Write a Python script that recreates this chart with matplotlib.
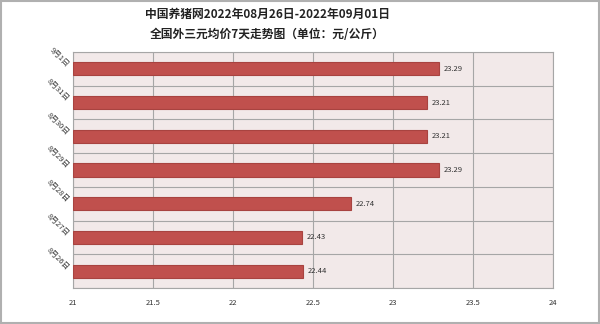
import matplotlib.pyplot as plt
from matplotlib.patches import Rectangle

plt.rcParams['font.family'] = ['Noto Sans CJK SC', 'DejaVu Sans']

# dates from bottom to top, as drawn
dates = ['8月26日', '8月27日', '8月28日', '8月29日', '8月30日', '8月31日', '9月1日']
prices = [22.44, 22.43, 22.74, 23.29, 23.21, 23.21, 23.29]
xticks = [21, 21.5, 22, 22.5, 23, 23.5, 24]
xtick_labels = ['21', '21.5', '22', '22.5', '23', '23.5', '24']

fig = plt.figure(figsize=(6, 3.24), dpi=100)
ax = fig.add_axes([73 / 600, 1 - 288 / 324, 480 / 600, 236 / 324])
ax.set_facecolor('#F2E9E9')

pos = list(range(len(dates)))
ax.barh(pos, [p - 21 for p in prices], left=21, height=0.39,
        color='#C0504D', edgecolor='#A84340', linewidth=0.8, zorder=3)

for y, p in zip(pos, prices):
    ax.text(p + 0.03, y, f'{p:.2f}', va='center', ha='left', fontsize=5.5,
            color='#333333', zorder=4)

ax.set_xlim(21, 24)
ax.set_ylim(-0.5, len(dates) - 0.5)
ax.set_xticks(xticks)
ax.set_xticklabels(xtick_labels, fontsize=5.5, color='#333333')
ax.set_yticks(pos)
ax.set_yticklabels(dates, fontsize=5.5, rotation=-45, ha='right', va='bottom',
                   rotation_mode='anchor', color='#333333')
ax.set_yticks([i - 0.5 for i in range(len(dates) + 1)], minor=True)
ax.tick_params(axis='both', which='both', length=0)
ax.tick_params(axis='x', pad=8)
ax.tick_params(axis='y', pad=6)

ax.grid(axis='x', which='major', color='#A6A6A6', linewidth=0.8, zorder=1)
ax.grid(axis='y', which='minor', color='#A6A6A6', linewidth=0.8, zorder=1)
for s in ax.spines.values():
    s.set_color('#A6A6A6')
    s.set_linewidth(0.8)

fig.text(0.445, 0.955, '中国养猪网2022年08月26日-2022年09月01日', ha='center', va='center',
         fontsize=8.5, fontweight='bold', color='#222222')
fig.text(0.445, 0.895, '全国外三元均价7天走势图（单位：元/公斤）', ha='center', va='center',
         fontsize=8.5, fontweight='bold', color='#222222')

fig.patches.append(Rectangle((0.002, 0.003), 0.996, 0.994, transform=fig.transFigure,
                             fill=False, edgecolor='#B0B0B0', linewidth=1.5))

fig.savefig('out.png', dpi=100)
